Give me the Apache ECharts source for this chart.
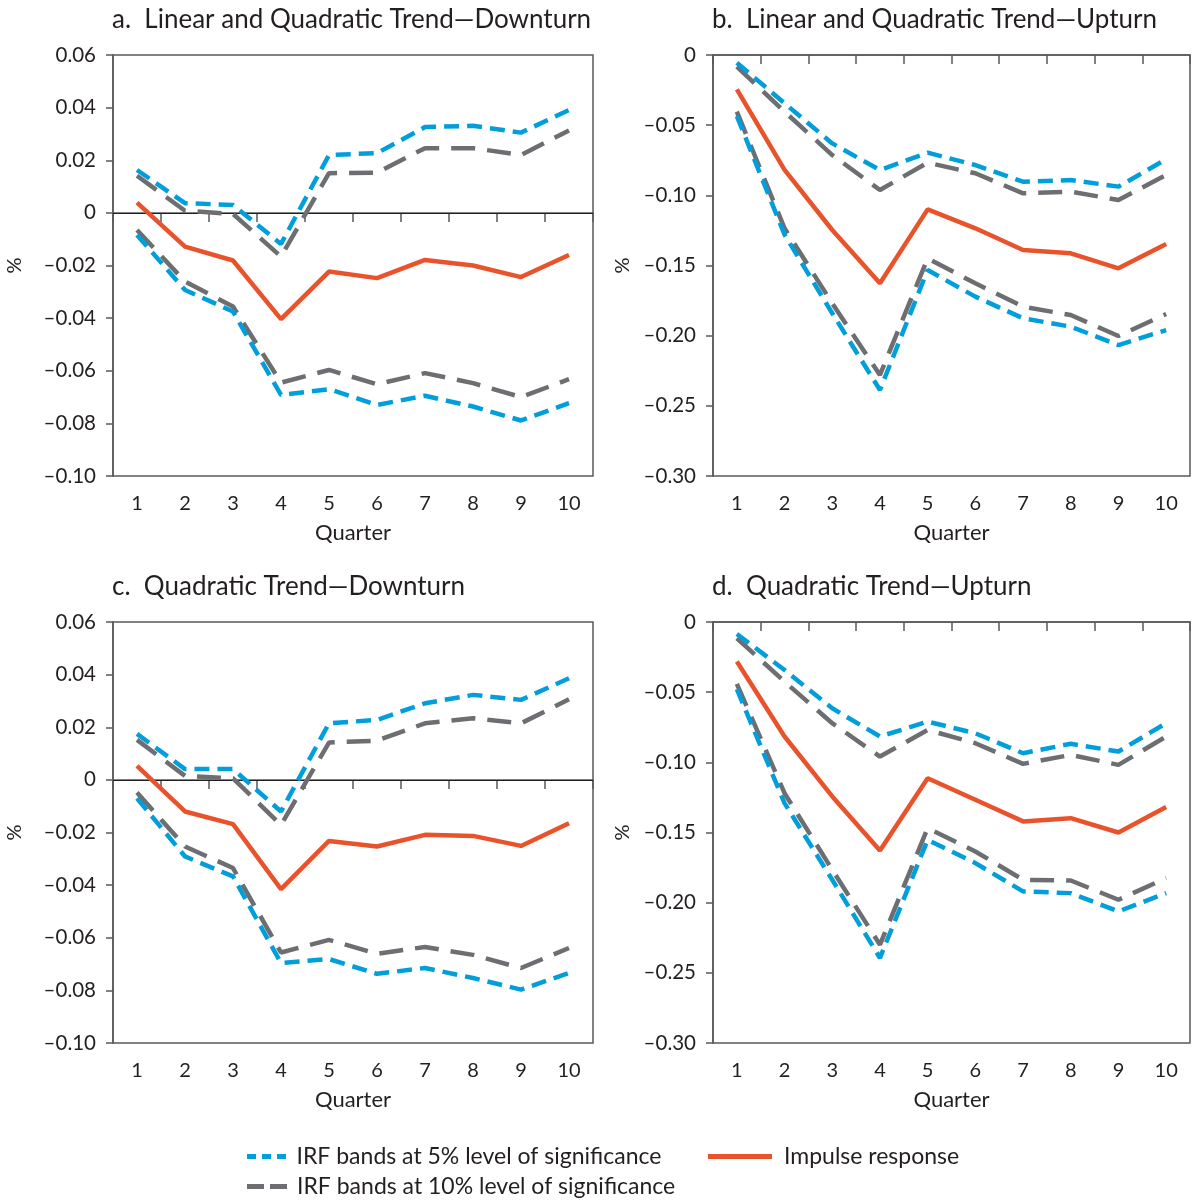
<!DOCTYPE html>
<html><head><meta charset="utf-8">
<script src="https://cdn.jsdelivr.net/npm/echarts@6/dist/echarts.min.js"></script>
<style>html,body{margin:0;padding:0;background:#fff}#c{width:1193px;height:1200px}</style>
</head><body><div id="c"></div>
<script>
const quarters = ['1','2','3','4','5','6','7','8','9','10'];
const panelTitles = ['a.  Linear and Quadratic Trend\u2014Downturn','b.  Linear and Quadratic Trend\u2014Upturn','c.  Quadratic Trend\u2014Downturn','d.  Quadratic Trend\u2014Upturn'];
const seriesNames = ['IRF bands at 5% level of significance','IRF bands at 10% level of significance','Impulse response'];

// Panel a
const aImpulse = [0.0039,-0.0128,-0.0181,-0.0404,-0.0223,-0.0248,-0.0179,-0.0200,-0.0244,-0.0160];
const aBand5Upper = [0.0163,0.0037,0.0030,-0.0118,0.0220,0.0227,0.0326,0.0331,0.0305,0.0391];
const aBand5Lower = [-0.0084,-0.0293,-0.0375,-0.0692,-0.0670,-0.0730,-0.0695,-0.0736,-0.0789,-0.0723];
const aBand10Upper = [0.0141,0.0008,-0.0004,-0.0166,0.0151,0.0153,0.0246,0.0246,0.0220,0.0313];
const aBand10Lower = [-0.0065,-0.0261,-0.0356,-0.0645,-0.0597,-0.0651,-0.0609,-0.0647,-0.0700,-0.0632];
// Panel b
const bImpulse = [-0.0245,-0.0819,-0.1247,-0.1627,-0.1100,-0.1235,-0.1390,-0.1413,-0.1520,-0.1347];
const bBand5Upper = [-0.0055,-0.0344,-0.0630,-0.0820,-0.0696,-0.0784,-0.0903,-0.0891,-0.0938,-0.0743];
const bBand5Lower = [-0.0435,-0.1280,-0.1840,-0.2387,-0.1532,-0.1722,-0.1876,-0.1936,-0.2067,-0.1960];
const bBand10Upper = [-0.0083,-0.0404,-0.0713,-0.0962,-0.0767,-0.0843,-0.0986,-0.0974,-0.1033,-0.0855];
const bBand10Lower = [-0.0404,-0.1235,-0.1770,-0.2280,-0.1449,-0.1627,-0.1793,-0.1853,-0.2002,-0.1846];
// Panel c
const cImpulse = [0.0053,-0.0120,-0.0168,-0.0415,-0.0232,-0.0253,-0.0209,-0.0213,-0.0251,-0.0165];
const cBand5Upper = [0.0175,0.0041,0.0041,-0.0120,0.0215,0.0228,0.0291,0.0323,0.0304,0.0386];
const cBand5Lower = [-0.0070,-0.0291,-0.0367,-0.0696,-0.0681,-0.0737,-0.0715,-0.0753,-0.0797,-0.0734];
const cBand10Upper = [0.0152,0.0015,0.0006,-0.0171,0.0142,0.0149,0.0215,0.0234,0.0215,0.0306];
const cBand10Lower = [-0.0048,-0.0253,-0.0335,-0.0656,-0.0608,-0.0661,-0.0635,-0.0665,-0.0715,-0.0639];
// Panel d
const dImpulse = [-0.0282,-0.0816,-0.1243,-0.1628,-0.1113,-0.1267,-0.1421,-0.1398,-0.1500,-0.1319];
const dBand5Upper = [-0.0085,-0.0342,-0.0615,-0.0816,-0.0710,-0.0793,-0.0935,-0.0868,-0.0923,-0.0721];
const dBand5Lower = [-0.0479,-0.1291,-0.1837,-0.2394,-0.1552,-0.1718,-0.1920,-0.1932,-0.2062,-0.1932];
const dBand10Upper = [-0.0116,-0.0425,-0.0721,-0.0959,-0.0769,-0.0864,-0.1011,-0.0947,-0.1018,-0.0816];
const dBand10Lower = [-0.0441,-0.1220,-0.1766,-0.2300,-0.1469,-0.1635,-0.1837,-0.1842,-0.1979,-0.1825];

const yMinDown = -0.10, yMaxDown = 0.06, yIntDown = 0.02;
const yMinUp = -0.30, yMaxUp = 0, yIntUp = 0.05;

const FONT = 'Lato';
const TXT = '#231F20';
const AX = '#58595B';
const BLUE = '#009EDB', GRAY = '#6D6E71', RED = '#E9532B';

const panels = [
  {title: panelTitles[0], imp: aImpulse, b5u: aBand5Upper, b5l: aBand5Lower, b10u: aBand10Upper, b10l: aBand10Lower, min: yMinDown, max: yMaxDown, interval: yIntDown, zero: true},
  {title: panelTitles[1], imp: bImpulse, b5u: bBand5Upper, b5l: bBand5Lower, b10u: bBand10Upper, b10l: bBand10Lower, min: yMinUp, max: yMaxUp, interval: yIntUp, zero: false},
  {title: panelTitles[2], imp: cImpulse, b5u: cBand5Upper, b5l: cBand5Lower, b10u: cBand10Upper, b10l: cBand10Lower, min: yMinDown, max: yMaxDown, interval: yIntDown, zero: true},
  {title: panelTitles[3], imp: dImpulse, b5u: dBand5Upper, b5l: dBand5Lower, b10u: dBand10Upper, b10l: dBand10Lower, min: yMinUp, max: yMaxUp, interval: yIntUp, zero: false}
];
const gridPos = [
  {left: 113, top: 55, width: 480, height: 421},
  {left: 713, top: 55, width: 477, height: 421},
  {left: 113, top: 622, width: 480, height: 421},
  {left: 713, top: 622, width: 477, height: 421}
];

function fmt(v){
  if (Math.abs(v) < 1e-9) return '0';
  return (v < 0 ? '\u2013' : '') + Math.abs(v).toFixed(2);
}

function legendOne(name, icon, color, w, left, top, pad){
  return {
    left: left, top: top, itemWidth: w, itemHeight: 5, selectedMode: false,
    textStyle: {fontFamily: FONT, fontSize: 23, color: TXT, padding: [0,0,0,pad]},
    data: [{name: name, icon: icon, itemStyle: {color: color}}]
  };
}

const option = {
  animation: false,
  backgroundColor: '#fff',
  textStyle: {fontFamily: FONT, color: TXT},
  title: [], grid: [], xAxis: [], yAxis: [], series: [],
  legend: [
    legendOne(seriesNames[0], 'path://M0,0h9v5h-9zM15,0h9v5h-9zM30,0h9v5h-9z', BLUE, 40, 242, 1140, 5),
    legendOne(seriesNames[1], 'path://M0,0h17v5h-17zM23,0h17v5h-17z', GRAY, 40, 242, 1170, 5),
    legendOne(seriesNames[2], 'path://M0,0h64v5h-64z', RED, 64, 703, 1140, 7)
  ]
};

panels.forEach((p, i) => {
  const g = gridPos[i];
  option.title.push({text: p.title, left: g.left - 6, top: g.top - 53,
    textStyle: {fontFamily: FONT, fontSize: 26, fontWeight: 'normal', color: TXT}});
  option.grid.push(Object.assign({show: true, borderColor: AX, borderWidth: 1.5, backgroundColor: 'transparent'}, g));
  option.xAxis.push({
    type: 'category', gridIndex: i, data: quarters, boundaryGap: true,
    name: 'Quarter', nameLocation: 'middle', nameGap: 46,
    nameTextStyle: {fontFamily: FONT, fontSize: 22, color: TXT},
    axisLine: {lineStyle: {color: AX, width: 1.5}},
    axisTick: {show: true, length: 9, inside: false, alignWithLabel: false, lineStyle: {color: AX, width: 1.5}},
    axisLabel: {fontFamily: FONT, fontSize: 20, color: TXT, margin: 18, interval: 0},
    splitLine: {show: false}
  });
  option.yAxis.push({
    type: 'value', gridIndex: i, min: p.min, max: p.max, interval: p.interval,
    name: '%', nameLocation: 'middle', nameGap: i % 2 === 0 ? 88 : 80, nameRotate: 90,
    nameTextStyle: {fontFamily: FONT, fontSize: 20, color: TXT},
    axisLine: {show: true, lineStyle: {color: AX, width: 1.5}},
    axisTick: {show: true, length: 7, inside: false, lineStyle: {color: AX, width: 1.5}},
    axisLabel: {fontFamily: FONT, fontSize: 20.5, color: TXT, margin: 17, formatter: fmt},
    splitLine: {show: false}
  });
  const base = {type: 'line', xAxisIndex: i, yAxisIndex: i, symbol: 'none', showSymbol: false, silent: true};
  const grayStyle = {color: GRAY, width: 4.5, type: [24, 12], cap: 'butt'};
  const blueStyle = {color: BLUE, width: 4.5, type: [15, 8], cap: 'butt'};
  option.series.push(Object.assign({}, base, {name: seriesNames[1], data: p.b10u, lineStyle: grayStyle, itemStyle: {color: GRAY}, z: 2,
    markLine: p.zero ? {silent: true, symbol: 'none', label: {show: false}, lineStyle: {color: '#231F20', width: 1.2, type: 'solid'}, data: [{yAxis: 0}], z: 1} : undefined}));
  option.series.push(Object.assign({}, base, {name: seriesNames[1], data: p.b10l, lineStyle: grayStyle, itemStyle: {color: GRAY}, z: 2}));
  option.series.push(Object.assign({}, base, {name: seriesNames[0], data: p.b5u, lineStyle: blueStyle, itemStyle: {color: BLUE}, z: 3}));
  option.series.push(Object.assign({}, base, {name: seriesNames[0], data: p.b5l, lineStyle: blueStyle, itemStyle: {color: BLUE}, z: 3}));
  option.series.push(Object.assign({}, base, {name: seriesNames[2], data: p.imp, lineStyle: {color: RED, width: 4.5, type: 'solid'}, itemStyle: {color: RED}, z: 4}));
});

const chart = echarts.init(document.getElementById('c'), null, {renderer: 'canvas'});
chart.setOption(option);
</script>
</body></html>
